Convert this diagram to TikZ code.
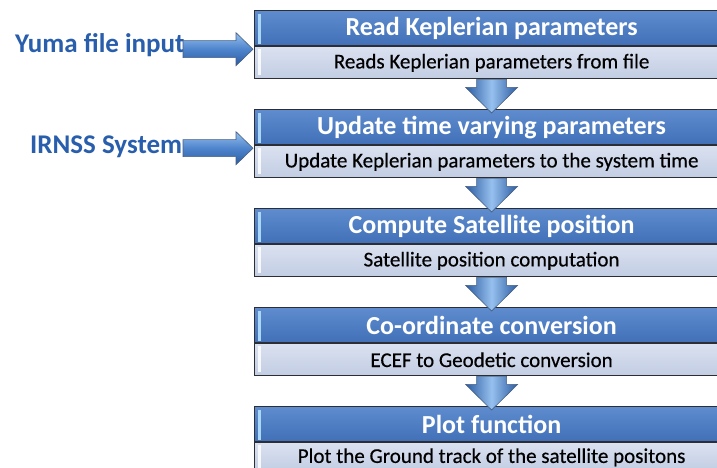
\documentclass[tikz,border=0pt]{standalone}
\usepackage{fontspec}
\setmainfont{Carlito}
\newfontfamily\descfont{Carlito}[FakeBold=0.45]
\usetikzlibrary{calc}

\definecolor{headtop}{RGB}{94,140,206}
\definecolor{headbot}{RGB}{66,112,184}
\definecolor{subtop}{RGB}{218,225,240}
\definecolor{subbot}{RGB}{194,205,227}
\definecolor{edge}{RGB}{45,45,52}
\definecolor{labelblue}{RGB}{40,94,172}
\definecolor{arrowlight}{RGB}{150,192,238}
\definecolor{arrowmid}{RGB}{78,132,204}
\definecolor{arrowdark}{RGB}{44,92,162}
\definecolor{arrowedge}{RGB}{70,95,130}
\definecolor{glint}{RGB}{170,215,245}

% block arrow pointing down from the bottom of one box to the top of the next
\newcommand\flowarrow[2]{%
  \path[blockarrow] let \p1=(#1.south), \p2=(#2.north) in
    (\x1-15pt,\y1) -- (\x1-15pt,\y1-8pt) -- (\x1-26pt,\y1-8pt) --
    (\x1,\y2-4pt) -- (\x1+26pt,\y1-8pt) -- (\x1+15pt,\y1-8pt) --
    (\x1+15pt,\y1) -- cycle;}

% block arrow pointing right, from a start coordinate to a tip coordinate
\newcommand\feedarrow[2]{%
  \path[sidearrow] let \p1=(#1), \p2=(#2) in
    (\x1,\y2+8.5pt) -- (\x2-17pt,\y2+8.5pt) -- (\x2-17pt,\y2+16.5pt) --
    (\x2,\y2) -- (\x2-17pt,\y2-16.5pt) -- (\x2-17pt,\y2-8.5pt) --
    (\x1,\y2-8.5pt) -- cycle;}

% light glints along the left edge of a box
\newcommand\boxglint[2]{%
  \fill[glint] ($(#1.north west)+(4,-4)$) rectangle ($(#1.south west)+(7,2)$);
  \fill[white,opacity=0.85] ($(#2.north west)+(4,-3)$) rectangle ($(#2.south west)+(7,4)$);}

\begin{document}
\begin{tikzpicture}[x=1pt,y=1pt,
  head/.style={draw=edge, line width=1.2pt, top color=headtop, bottom color=headbot,
    minimum width=474pt, minimum height=35pt, inner sep=0pt, text=white,
    font=\bfseries\fontsize{26}{30}\selectfont, anchor=north west},
  sub/.style={draw=edge, line width=1.2pt, top color=subtop, bottom color=subbot,
    minimum width=474pt, minimum height=32pt, inner sep=0pt, text=black,
    font=\descfont\fontsize{21}{25}\selectfont, anchor=north west},
  sidelabel/.style={text=labelblue, font=\bfseries\fontsize{27}{30}\selectfont,
    anchor=base west, inner sep=0pt},
  blockarrow/.style={draw=arrowedge, line width=0.6pt, left color=arrowdark,
    right color=arrowdark, middle color=arrowlight},
  sidearrow/.style={draw=arrowedge, line width=0.6pt, top color=arrowlight,
    bottom color=arrowdark, middle color=arrowmid}
]
\useasboundingbox (0,0) rectangle (717,468);
\fill[white] (0,0) rectangle (717,468);
\clip (0,0) rectangle (717,468);

% process boxes: title bar over a description bar
\node[head] (h1) at (254,458) {Read Keplerian parameters};
\node[sub]  (s1) at (h1.south west) {Reads Keplerian parameters from file};
\node[head] (h2) at (254,359) {Update time varying parameters};
\node[sub]  (s2) at (h2.south west) {Update Keplerian parameters to the system time};
\node[head] (h3) at (254,260) {Compute Satellite position};
\node[sub]  (s3) at (h3.south west) {Satellite position computation};
\node[head] (h4) at (254,161) {Co-ordinate conversion};
\node[sub]  (s4) at (h4.south west) {ECEF to Geodetic conversion};
\node[head] (h5) at (254,62) {Plot function};
\node[sub, minimum height=29pt] (s5) at (h5.south west) {Plot the Ground track of the satellite positons};
% the last box runs on past the lower edge
\path[draw=edge, line width=1.2pt, top color=subbot, bottom color=subbot]
  (s5.south west) -- ++(0,-6) -- ++(474,0) -- ++(0,6);

\boxglint{h1}{s1}
\boxglint{h2}{s2}
\boxglint{h3}{s3}
\boxglint{h4}{s4}
\boxglint{h5}{s5}

% flow between the boxes
\flowarrow{s1}{h2}
\flowarrow{s2}{h3}
\flowarrow{s3}{h4}
\flowarrow{s4}{h5}

% inputs
\node[sidelabel] (yuma) at (15,415) {Yuma file input};
\node[sidelabel] (irnss) at (30,314) {IRNSS System};

\coordinate (yumastart) at (183,420);
\coordinate (yumatip) at ($(h1.south west)+(-1,-3)$);
\coordinate (irnssstart) at (183,321);
\coordinate (irnsstip) at ($(h2.south west)+(-1,-3)$);

\feedarrow{yumastart}{yumatip}
\feedarrow{irnssstart}{irnsstip}
\end{tikzpicture}
\end{document}
